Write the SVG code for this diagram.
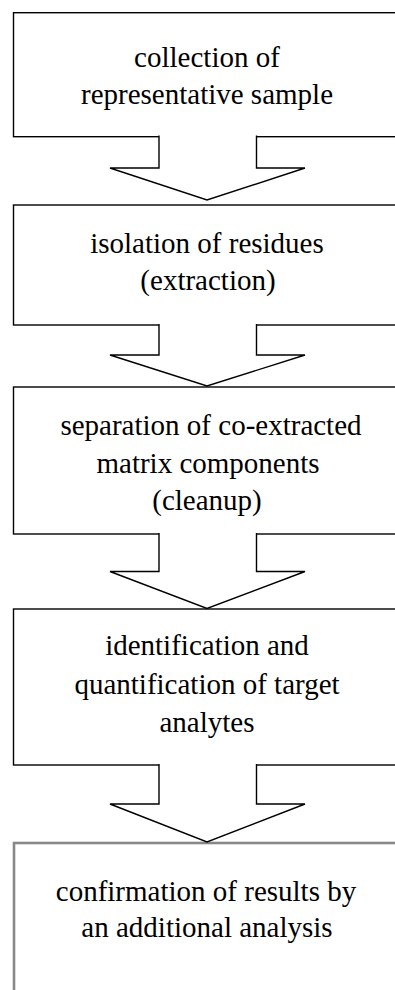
<svg xmlns="http://www.w3.org/2000/svg" width="395" height="990" viewBox="0 0 395 990">
<style>
.box{fill:#fff;stroke:#000;stroke-width:1.4}
.last{fill:#fff;stroke:#888;stroke-width:2.6}
.arr{fill:#fff;stroke:#000;stroke-width:1.4;stroke-linejoin:miter}
text{font-family:"Liberation Serif",serif;font-size:29px;fill:#000;text-anchor:middle}
</style>
<rect width="395" height="990" fill="#fff"/>
<g id="n1"><rect class="box" x="13.5" y="12.7" width="400" height="124"/>
<text x="207" y="67">collection of</text>
<text x="207" y="104">representative sample</text></g>
<g id="n2"><rect class="box" x="13.5" y="205" width="400" height="120"/>
<text x="207" y="253">isolation of residues</text>
<text x="208" y="290">(extraction)</text></g>
<g id="n3"><rect class="box" x="13.5" y="387" width="400" height="147"/>
<text x="211" y="435">separation of co-extracted</text>
<text x="208" y="473">matrix components</text>
<text x="207" y="510">(cleanup)</text></g>
<g id="n4"><rect class="box" x="13.5" y="609" width="400" height="156"/>
<text x="207" y="655">identification and</text>
<text x="207" y="694">quantification of target</text>
<text x="207" y="732">analytes</text></g>
<g id="n5"><rect class="last" x="14" y="843" width="400" height="200"/>
<text x="206" y="901">confirmation of results by</text>
<text x="207" y="937">an additional analysis</text></g>
<g id="connectors">
<path class="arr" d="M159,135.5 V168 H110 L207,200 L305,168 H256.5 V135.5"/>
<path class="arr" d="M159,324 V355 H110 L207,386 L305,355 H256.5 V324"/>
<path class="arr" d="M159,533 V571.5 H110 L207,608.5 L305,571.5 H256.5 V533"/>
<path class="arr" d="M159,764 V804 H110 L207,842 L305,804 H256.5 V764"/>
</g>
</svg>
